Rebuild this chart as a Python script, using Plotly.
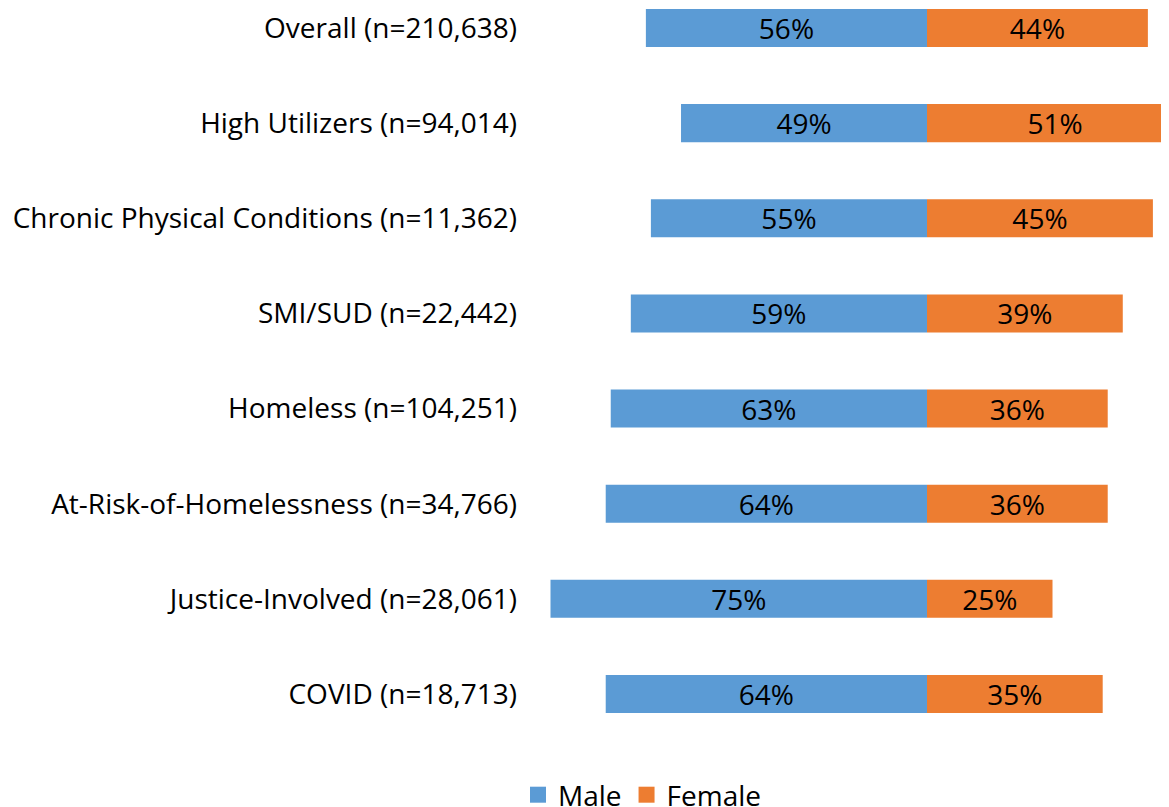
import plotly.graph_objects as go

categories = [
    "Overall (n=210,638)",
    "High Utilizers (n=94,014)",
    "Chronic Physical Conditions (n=11,362)",
    "SMI/SUD (n=22,442)",
    "Homeless (n=104,251)",
    "At-Risk-of-Homelessness (n=34,766)",
    "Justice-Involved (n=28,061)",
    "COVID (n=18,713)",
]
male = [56, 49, 55, 59, 63, 64, 75, 64]
female = [44, 51, 45, 39, 36, 36, 25, 35]

FONT = "Open Sans"
BLUE = "#5B9BD5"
ORANGE = "#ED7D31"
FS = 28

fig = go.Figure()
fig.add_trace(go.Bar(
    y=categories, x=[-v for v in male], orientation="h", name="Male",
    marker=dict(color=BLUE, line=dict(width=0)),
    text=[f"{v}%" for v in male], textposition="inside",
    insidetextanchor="middle", textangle=0, constraintext="none",
    textfont=dict(color="black", size=FS, family=FONT),
    width=0.4, hoverinfo="skip", showlegend=False,
))
fig.add_trace(go.Bar(
    y=categories, x=female, orientation="h", name="Female",
    marker=dict(color=ORANGE, line=dict(width=0)),
    text=[f"{v}%" for v in female], textposition="inside",
    insidetextanchor="middle", textangle=0, constraintext="none",
    textfont=dict(color="black", size=FS, family=FONT),
    width=0.4, hoverinfo="skip", showlegend=False,
))
for nm, col in (("Male", BLUE), ("Female", ORANGE)):
    fig.add_trace(go.Scatter(
        x=[None], y=[None], mode="markers", name=nm,
        marker=dict(symbol="square", size=18, color=col), hoverinfo="skip",
    ))

# page body has an 8px margin; figure origin sits at (8, 8)
OFF = 8
W = 1169 - OFF + 20
H = 850
plot_bottom = 740 - OFF
L, T = 520 - OFF, 0
R = 0
B = H - plot_bottom
px_per = 5.02
zero_px = 927 - OFF
x0 = (L - zero_px) / px_per
x1 = (W - R - zero_px) / px_per
cat_px = 95.14
c0 = 28 - OFF
top_val = -c0 / cat_px
bot_val = (plot_bottom - c0) / cat_px
pw = W - L - R

fig.update_layout(
    width=W, height=H,
    margin=dict(l=L, r=R, t=T, b=B),
    barmode="relative",
    plot_bgcolor="white", paper_bgcolor="white",
    font=dict(family=FONT, size=FS, color="black"),
    xaxis=dict(range=[x0, x1], visible=False, showgrid=False, zeroline=False),
    yaxis=dict(range=[bot_val, top_val], showgrid=False, zeroline=False,
               ticks="", showline=False,
               tickfont=dict(family=FONT, size=FS, color="black"),
               ticklabelstandoff=2),
    legend=dict(orientation="h", x=(518 - OFF - L) / pw, xanchor="left",
                y=(plot_bottom - (795 - OFF)) / (plot_bottom - T), yanchor="middle",
                font=dict(family=FONT, size=FS, color="black"),
                itemwidth=30, tracegroupgap=0),
    showlegend=True,
)

fig.write_html("out.html")
